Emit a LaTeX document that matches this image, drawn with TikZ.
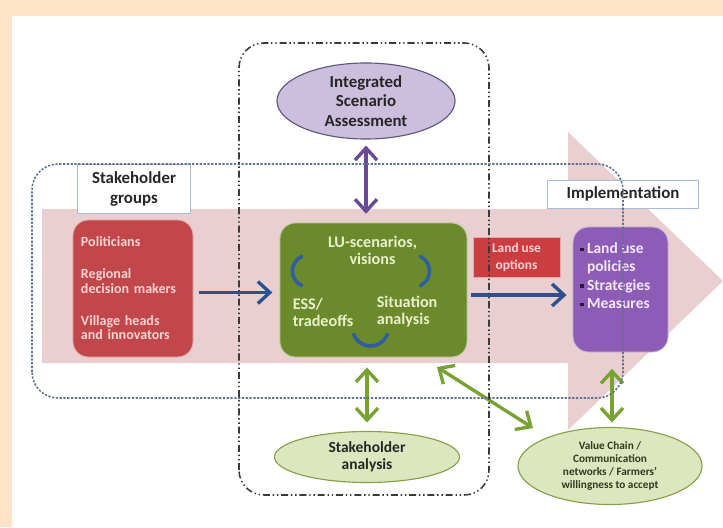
\documentclass[tikz,border=0pt]{standalone}
\usepackage{fontspec}
\setmainfont{Carlito}
\usetikzlibrary{positioning, arrows.meta, shapes.geometric, calc}
\definecolor{peach}{HTML}{FDE4C8}
\definecolor{flowpink}{HTML}{EACFD1}
\definecolor{brick}{HTML}{C2474A}
\definecolor{optred}{HTML}{CC3D42}
\definecolor{olive}{HTML}{6B8A2C}
\definecolor{violet}{HTML}{8C5CB6}
\definecolor{lilac}{HTML}{CBBFDD}
\definecolor{lilacline}{HTML}{5F5580}
\definecolor{plum}{HTML}{6A4A96}
\definecolor{leaf}{HTML}{78A232}
\definecolor{palegreen}{HTML}{DCE7C0}
\definecolor{mossline}{HTML}{85A045}
\definecolor{navy}{HTML}{2C5190}
\definecolor{cycblue}{HTML}{2F5F9E}
\definecolor{skyline}{HTML}{A6BCD9}
\definecolor{dotline}{HTML}{5F7391}
\definecolor{dashline}{HTML}{3A3A3A}
\definecolor{paletext}{HTML}{EAF0CC}
\definecolor{pinktext}{HTML}{F5D3D3}
\definecolor{liltext}{HTML}{F2E8FA}
\definecolor{inkgray}{HTML}{262626}
\definecolor{darkmoss}{HTML}{2F3A1E}
\newcommand{\sqbul}{\textcolor{plum!35!black}{\rule[0.3ex]{2.6pt}{2.6pt}}\hspace{2.5pt}}

\begin{document}
\begin{tikzpicture}[
  x=0.025cm, y=0.025cm,
  >={Straight Barb[length=3mm, width=5.5mm]},
  every node/.style={font=\bfseries},
  block/.style={
    fill=#1, draw=#1!45!white, line width=0.6pt,
    rounded corners=11pt, inner sep=0pt, align=center,
  },
  tag/.style={
    draw=skyline, fill=white, line width=0.7pt, inner sep=0pt,
    text=inkgray, font=\fontsize{12}{14.5}\selectfont\bfseries, align=center,
  },
  bubble/.style={
    ellipse, draw=#1, line width=0.8pt, inner sep=0pt, align=center,
  },
  coretxt/.style={text=paletext, font=\fontsize{11.5}{12}\selectfont\bfseries, inner sep=0pt},
  barr/.style={->, navy, line width=2.4pt},
  garr/.style={<->, leaf, line width=2.4pt},
  parr/.style={<->, plum, line width=2.4pt},
  cyc/.style={cycblue, line width=2.6pt, line cap=round},
  dotframe/.style={dotline, line width=1.1pt, dash pattern=on 1.6pt off 1.1pt, rounded corners=0.65cm},
  dashframe/.style={dashline, line width=1.1pt, dash pattern=on 5pt off 2pt on 1pt off 2pt on 1pt off 2pt, rounded corners=0.62cm},
]

% === BACKGROUND ===
\fill[peach] (0,0) rectangle (723,527);
\fill[white] (12,0) rectangle (723,511);
\useasboundingbox (0,0) rectangle (723,527);

% big flow arrow
\fill[flowpink] (42,164) -- (568,164) -- (568,97) -- (723,246)
  -- (568,395) -- (568,318) -- (42,318) -- cycle;

% === STAKEHOLDER GROUPS (left) ===
\node[tag, minimum width=2.8cm, minimum height=1.2cm] (sgroups) at (134,338) {Stakeholder\\groups};
\node[block=brick, minimum width=3cm, minimum height=3.425cm, text width=2.6cm, align=left,
  text=pinktext, font=\fontsize{10}{10.5}\selectfont\bfseries] (actors) at (133,238.5)
  {Politicians\\[12pt]Regional\\decision makers\\[12pt]Village heads\\and innovators};

% === SCENARIO CORE (center) ===
\node[block=olive, minimum width=4.675cm, minimum height=3.35cm] (core) at (373.5,237) {};
\node[coretxt, align=center] (luscen) at ($(core.center)+(-1,40)$) {LU-scenarios,\\visions};
\node[coretxt, anchor=west, align=left] (ess) at ($(core.center)+(-81,-22)$) {ESS/\\tradeoffs};
\node[coretxt, anchor=west, align=left] (sit) at ($(core.center)+(3,-22)$) {Situation\\analysis};

% cycle arcs
\draw[cyc] ($(core.center)+(-65,19)$) ++(115:16) arc[start angle=115, end angle=245, radius=16];
\draw[cyc] ($(core.center)+(40,19)$) ++(-65:16) arc[start angle=-65, end angle=65, radius=16];
\draw[cyc] ($(core.center)+(-3,-38)$) ++(200:18) arc[start angle=200, end angle=340, radius=18];

% === IMPLEMENTATION (right) ===
\node[block=optred, rounded corners=0pt, minimum width=2.175cm, minimum height=1cm,
  text=pinktext, font=\fontsize{9.5}{12}\selectfont\bfseries] (options) at (516.5,270) {Land use\\options};
\node[block=violet, minimum width=2.375cm, minimum height=3.125cm] (measures) at (620.5,237.5) {};
\node[anchor=north west, align=left, inner sep=0pt, text=liltext,
  font=\fontsize{11}{13}\selectfont\bfseries] (measuretxt) at ($(measures.north west)+(7,-16)$)
  {\sqbul Land use\\
   \hphantom{\sqbul}policies\\
   \sqbul Strategies\\
   \sqbul Measures};
\node[tag, minimum width=3.75cm, minimum height=0.7cm] (impl) at (623,333) {Implementation};

% === ASSESSMENT BUBBLES ===
\node[bubble=lilacline, fill=lilac, minimum width=4.45cm, minimum height=1.9cm,
  text=inkgray, font=\fontsize{12}{14}\selectfont\bfseries] (isa) at (366,426)
  {Integrated\\Scenario\\Assessment};
\node[bubble=mossline, fill=palegreen, minimum width=4.625cm, minimum height=1.275cm,
  text=inkgray, font=\fontsize{11}{12}\selectfont\bfseries] (sha) at (367,70)
  {Stakeholder\\analysis};
\node[bubble=mossline, fill=palegreen, minimum width=4.6cm, minimum height=1.925cm,
  text=darkmoss, font=\fontsize{8}{9.3}\selectfont\bfseries] (vchain) at (610,61)
  {Value Chain /\\Communication\\networks / Farmers'\\willingness to accept};

% === CONNECTORS ===
\draw[barr, shorten <=0.13cm, shorten >=0.18cm]
  ([yshift=-0.1cm]actors.east) -- ([yshift=-0.1cm]actors.east -| core.west);
\draw[barr, shorten <=0.08cm, shorten >=0.15cm]
  ([yshift=-0.125cm]core.east) -- ([yshift=-0.125cm]core.east -| measures.west);
\draw[parr, shorten <=0.15cm, shorten >=0.22cm] (isa.south) -- (isa.south |- core.north);
\draw[garr, shorten <=0.25cm, shorten >=0.21cm] (sha.north |- core.south) -- (sha.north);
\draw[garr] ($(core.center)+(63.5,-77)$) -- ($(vchain.center)+(-77,38)$);
\draw[garr, shorten <=0.41cm, shorten >=0.11cm]
  ([xshift=0.05cm]vchain.north |- measures.south) -- ([xshift=0.05cm]vchain.north);

% === FRAMES ===
\draw[dotframe] (32,129) rectangle (623,363);
\draw[dashframe] (239,32) rectangle (489,484);

\end{tikzpicture}
\end{document}
